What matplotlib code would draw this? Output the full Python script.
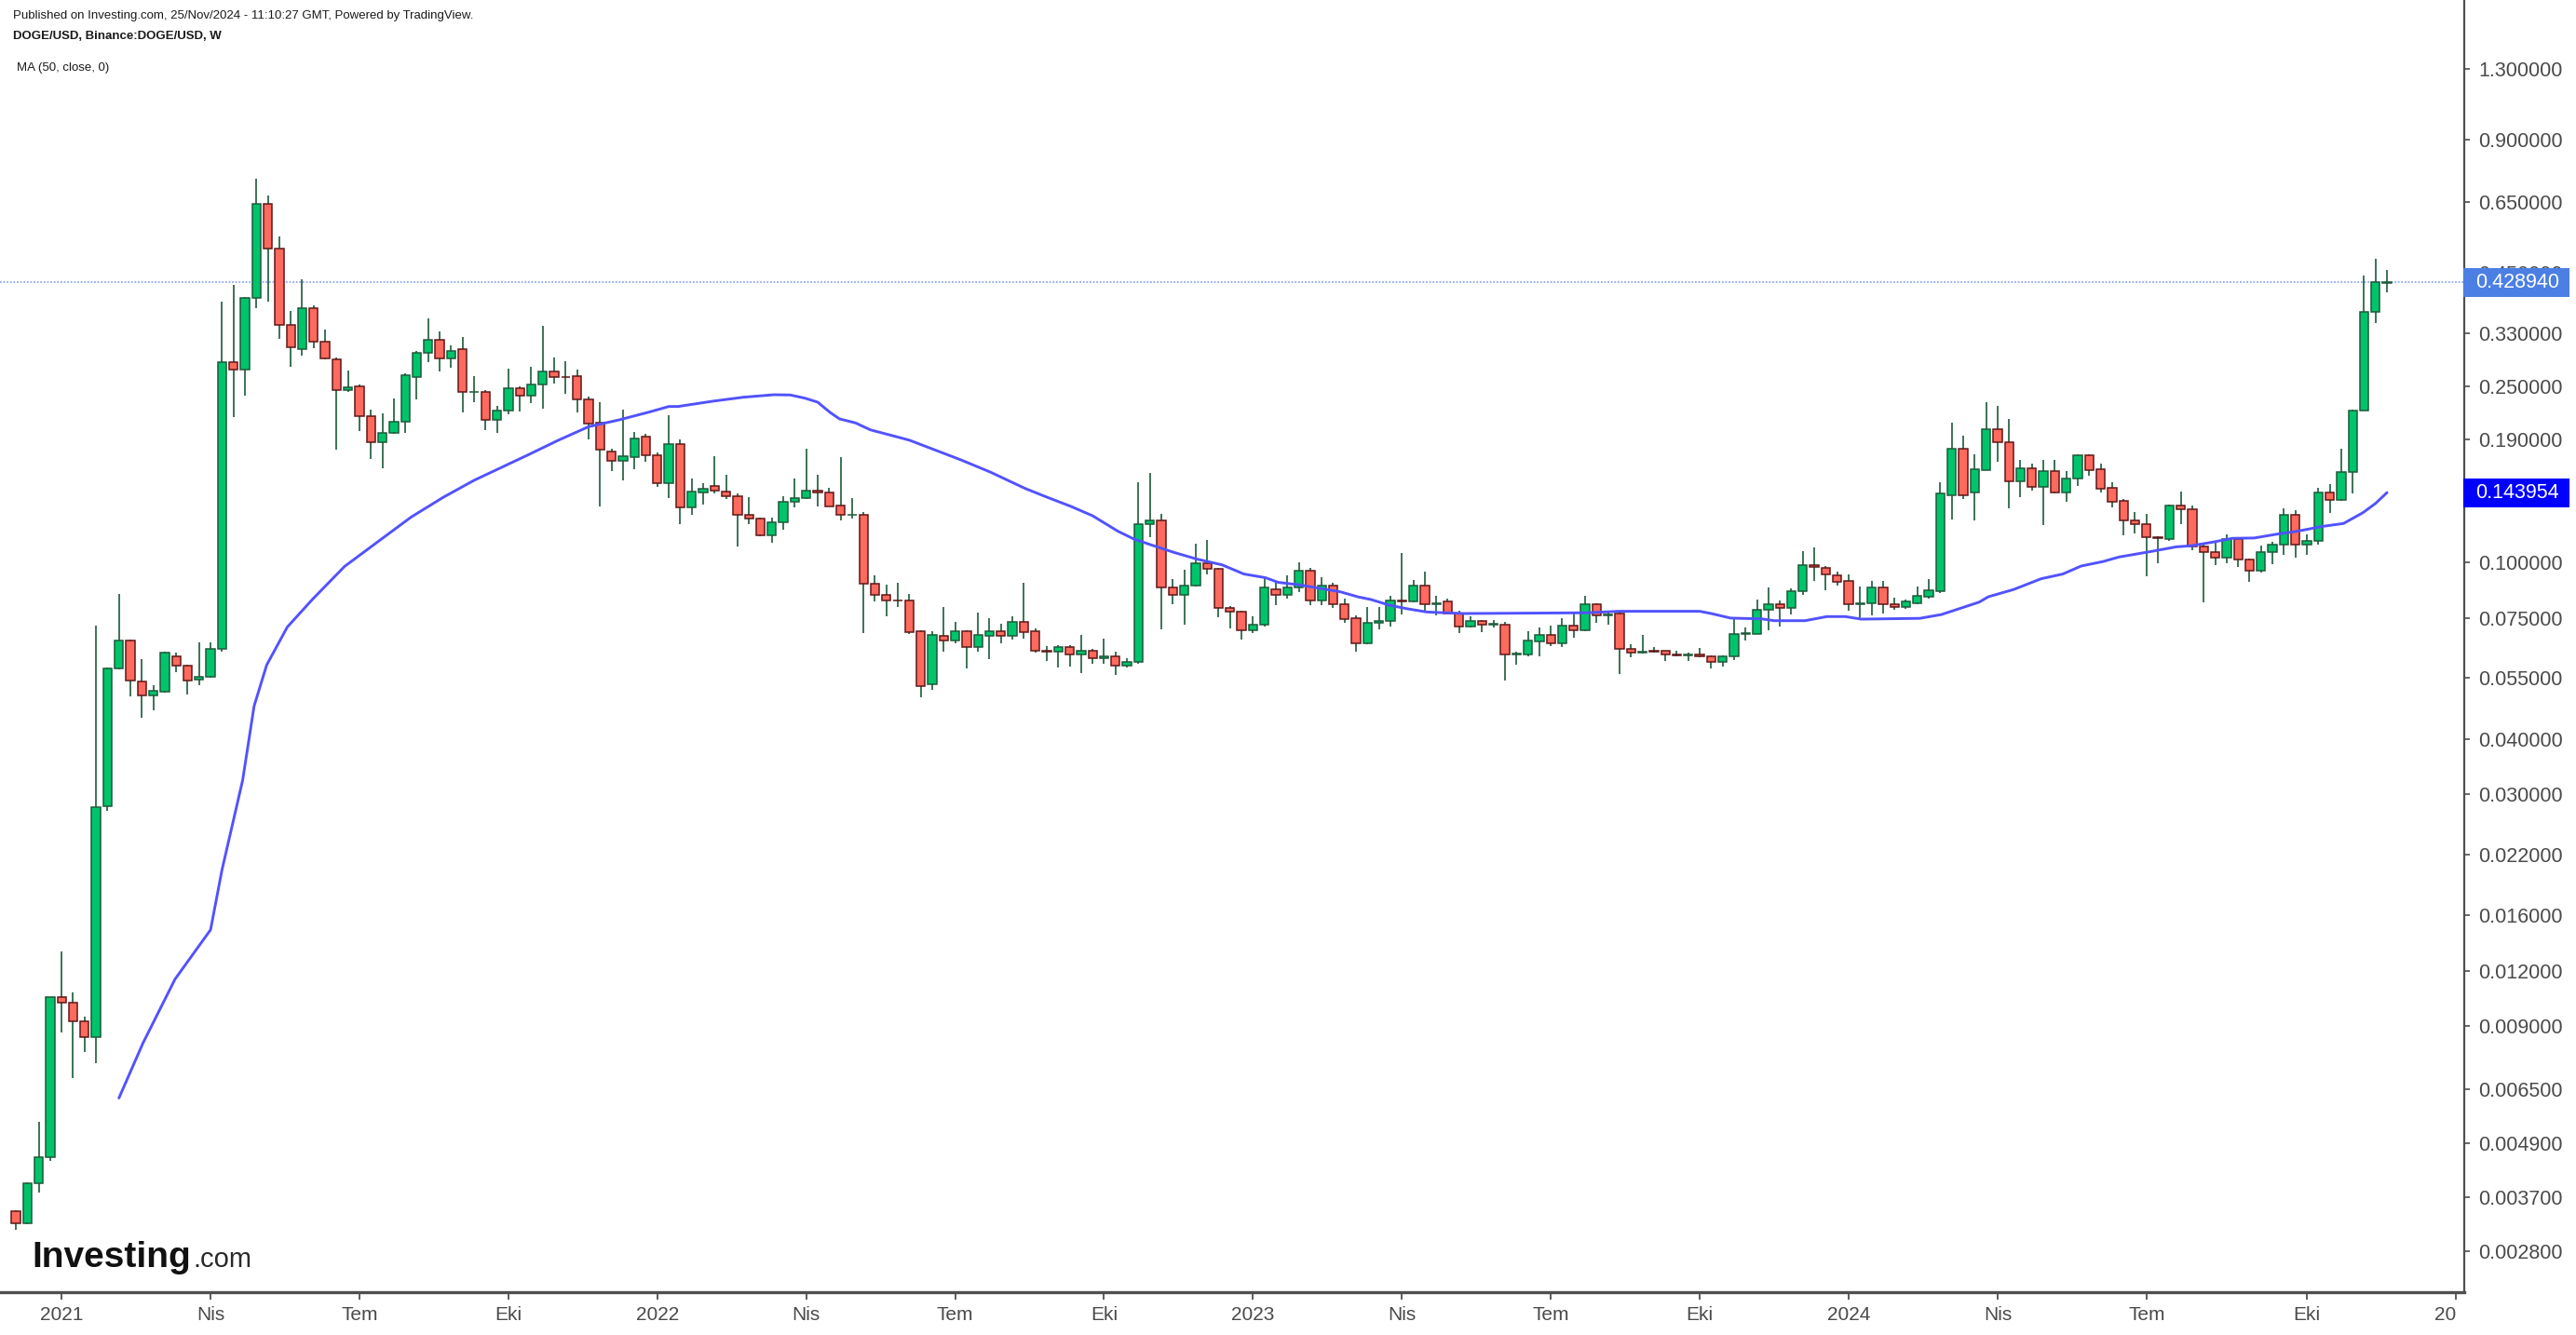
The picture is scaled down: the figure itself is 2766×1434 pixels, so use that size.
import datetime as dt
import numpy as np
import matplotlib
matplotlib.use("Agg")
import matplotlib.pyplot as plt
import matplotlib.dates as mdates
from matplotlib.patches import Rectangle
from matplotlib.transforms import Bbox, TransformedBbox, IdentityTransform, blended_transform_factory

plt.rcParams['font.family'] = ['Liberation Sans', 'DejaVu Sans']

# weekly DOGE/USD candles, first week starts 7 Dec 2020
first_week = dt.datetime(2020, 12, 7)

opens = [0.00345, 0.00323, 0.00398, 0.00456, 0.01048, 0.01019, 0.00922, 0.00853, 0.0282, 0.0578,
         0.0666, 0.0539, 0.0502, 0.0512, 0.0615, 0.0587, 0.0545, 0.0552, 0.0639, 0.2836,
         0.2727, 0.395, 0.6457, 0.5112, 0.3439, 0.3032, 0.3757, 0.3152, 0.287, 0.2447,
         0.25, 0.2141, 0.187, 0.1966, 0.2083, 0.2624, 0.2979, 0.3183, 0.2888, 0.3032,
         0.2427, 0.243, 0.2101, 0.2204, 0.2478, 0.2381, 0.2523, 0.2704, 0.2624, 0.264,
         0.2337, 0.2066, 0.1784, 0.1696, 0.1733, 0.1928, 0.1751, 0.1512, 0.1854, 0.1333,
         0.1443, 0.1488, 0.1445, 0.1414, 0.1283, 0.126, 0.1153, 0.1232, 0.1374, 0.1401,
         0.1456, 0.1443, 0.1346, 0.1282, 0.1283, 0.0898, 0.0848, 0.0823, 0.0823, 0.070,
         0.0533, 0.0685, 0.0667, 0.070, 0.0645, 0.0683, 0.070, 0.0683, 0.0734, 0.070,
         0.0633, 0.0629, 0.0646, 0.0621, 0.0634, 0.0609, 0.0616, 0.0586, 0.0597, 0.1223,
         0.1248, 0.0881, 0.0846, 0.0889, 0.0999, 0.097, 0.0791, 0.0776, 0.0703, 0.0725,
         0.0873, 0.0845, 0.0881, 0.0961, 0.0822, 0.0889, 0.0808, 0.0749, 0.0657, 0.0733,
         0.0738, 0.0823, 0.0819, 0.0889, 0.0806, 0.0817, 0.0768, 0.0718, 0.0739, 0.0725,
         0.0726, 0.062, 0.062, 0.0665, 0.0686, 0.0657, 0.072, 0.0703, 0.0807, 0.0761,
         0.0768, 0.064, 0.0626, 0.0633, 0.0632, 0.062, 0.0618, 0.0622, 0.0616, 0.0597,
         0.0615, 0.0692, 0.0692, 0.0782, 0.0806, 0.0791, 0.0864, 0.0989, 0.0975, 0.0935,
         0.0909, 0.0805, 0.0812, 0.0881, 0.0805, 0.0796, 0.0812, 0.0838, 0.0861, 0.1422,
         0.1805, 0.1438, 0.162, 0.2005, 0.1874, 0.1524, 0.1636, 0.1483, 0.1607, 0.1438,
         0.1545, 0.1751, 0.1623, 0.1473, 0.1376, 0.1247, 0.1224, 0.1142, 0.1133, 0.1348,
         0.1322, 0.109, 0.1058, 0.1027, 0.1133, 0.1017, 0.0959, 0.1057, 0.1101, 0.1285,
         0.110, 0.1122, 0.1441, 0.1384, 0.160, 0.2206, 0.3676, 0.4285]
highs = [0.00347, 0.00401, 0.00549, 0.0105, 0.01327, 0.01072, 0.00947, 0.0722, 0.058, 0.085,
         0.067, 0.0606, 0.053, 0.063, 0.0628, 0.059, 0.066, 0.066, 0.388, 0.423,
         0.397, 0.7347, 0.6733, 0.5436, 0.3693, 0.4358, 0.38, 0.3352, 0.29, 0.2709,
         0.252, 0.2212, 0.2169, 0.2344, 0.267, 0.30, 0.3558, 0.332, 0.3088, 0.3226,
         0.264, 0.245, 0.2259, 0.2736, 0.25, 0.2763, 0.3423, 0.29, 0.285, 0.2732,
         0.2375, 0.2299, 0.1812, 0.2214, 0.1972, 0.195, 0.177, 0.2151, 0.19, 0.1548,
         0.1513, 0.1741, 0.1578, 0.143, 0.1404, 0.1265, 0.1265, 0.1416, 0.1548, 0.1807,
         0.1578, 0.1475, 0.1732, 0.1397, 0.13, 0.0937, 0.0892, 0.0901, 0.0851, 0.0705,
         0.0701, 0.0793, 0.0737, 0.0705, 0.0772, 0.075, 0.0729, 0.0757, 0.090, 0.0712,
         0.0648, 0.0652, 0.0652, 0.0686, 0.064, 0.0674, 0.063, 0.061, 0.1519, 0.1594,
         0.1287, 0.0917, 0.0963, 0.1104, 0.1125, 0.0975, 0.080, 0.0778, 0.0756, 0.0925,
         0.0905, 0.0937, 0.1002, 0.0975, 0.0927, 0.0902, 0.0831, 0.0762, 0.0795, 0.0795,
         0.0842, 0.1052, 0.0915, 0.0955, 0.0842, 0.083, 0.0778, 0.0756, 0.0741, 0.0744,
         0.0735, 0.0631, 0.0701, 0.0715, 0.0722, 0.075, 0.0771, 0.0842, 0.081, 0.0778,
         0.077, 0.0654, 0.0686, 0.0645, 0.0634, 0.0634, 0.0628, 0.0641, 0.0618, 0.0618,
         0.0755, 0.0713, 0.0826, 0.0881, 0.0823, 0.0877, 0.106, 0.1083, 0.0983, 0.0957,
         0.0941, 0.0883, 0.0909, 0.0909, 0.0833, 0.0826, 0.0884, 0.0918, 0.1517, 0.2071,
         0.1938, 0.1759, 0.2303, 0.2259, 0.2111, 0.1703, 0.167, 0.1703, 0.1703, 0.1607,
         0.1755, 0.1755, 0.167, 0.1517, 0.139, 0.1299, 0.1291, 0.1145, 0.1355, 0.1445,
         0.1345, 0.110, 0.1111, 0.1159, 0.114, 0.102, 0.1092, 0.1113, 0.1327, 0.1312,
         0.1159, 0.1476, 0.1505, 0.1805, 0.2215, 0.4437, 0.4841, 0.4574]
lows = [0.00313, 0.00322, 0.00379, 0.00447, 0.0087, 0.00688, 0.00789, 0.00743, 0.0275, 0.0575,
        0.050, 0.0446, 0.0464, 0.051, 0.0567, 0.0504, 0.053, 0.055, 0.063, 0.2134,
        0.238, 0.3747, 0.3887, 0.3202, 0.277, 0.2935, 0.305, 0.288, 0.1797, 0.2427,
        0.1979, 0.1712, 0.1631, 0.195, 0.1963, 0.2336, 0.283, 0.2697, 0.2756, 0.2181,
        0.2305, 0.1994, 0.1963, 0.2166, 0.2198, 0.2288, 0.2221, 0.2539, 0.2401, 0.2181,
        0.19, 0.1341, 0.1612, 0.1536, 0.1628, 0.1689, 0.148, 0.1397, 0.1221, 0.1281,
        0.135, 0.1432, 0.1394, 0.1086, 0.1221, 0.115, 0.1108, 0.1187, 0.1332, 0.1394,
        0.1342, 0.134, 0.1245, 0.1256, 0.0695, 0.0819, 0.0758, 0.0796, 0.0689, 0.0496,
        0.0516, 0.0631, 0.0657, 0.0578, 0.0631, 0.0607, 0.0657, 0.067, 0.0675, 0.0626,
        0.0601, 0.0579, 0.0584, 0.0563, 0.0591, 0.0591, 0.0557, 0.0579, 0.0591, 0.114,
        0.0709, 0.0805, 0.0724, 0.0885, 0.094, 0.0752, 0.071, 0.067, 0.0695, 0.0718,
        0.0804, 0.0829, 0.086, 0.0804, 0.0804, 0.0789, 0.0732, 0.0631, 0.0654, 0.0709,
        0.0718, 0.0766, 0.0815, 0.078, 0.076, 0.0765, 0.0695, 0.0716, 0.0696, 0.0713,
        0.0541, 0.0589, 0.0614, 0.0614, 0.065, 0.0645, 0.0676, 0.070, 0.0732, 0.0725,
        0.0562, 0.0612, 0.0624, 0.0626, 0.0601, 0.0614, 0.0601, 0.0612, 0.0578, 0.0584,
        0.0602, 0.0667, 0.069, 0.0703, 0.0718, 0.0765, 0.0846, 0.091, 0.0868, 0.0886,
        0.078, 0.0746, 0.0759, 0.0767, 0.0783, 0.0788, 0.0805, 0.083, 0.0853, 0.1254,
        0.1395, 0.1244, 0.1615, 0.1693, 0.1329, 0.1409, 0.1453, 0.1218, 0.1435, 0.137,
        0.1493, 0.1568, 0.1438, 0.1334, 0.1153, 0.1162, 0.0931, 0.0995, 0.1119, 0.1222,
        0.1069, 0.0813, 0.0986, 0.0998, 0.0977, 0.0906, 0.095, 0.0994, 0.1043, 0.1027,
        0.1043, 0.1098, 0.1293, 0.138, 0.1436, 0.22, 0.3467, 0.4074]
closes = [0.00323, 0.00398, 0.00456, 0.01048, 0.01019, 0.00922, 0.00853, 0.0281, 0.0577, 0.0666,
          0.0541, 0.0502, 0.0513, 0.0627, 0.0585, 0.0541, 0.0552, 0.0639, 0.2836, 0.2727,
          0.395, 0.6457, 0.5112, 0.3439, 0.3062, 0.3757, 0.3152, 0.2888, 0.2447, 0.249,
          0.2141, 0.187, 0.1966, 0.2083, 0.2649, 0.2979, 0.3183, 0.2888, 0.3008, 0.2427,
          0.243, 0.2101, 0.2204, 0.2478, 0.2381, 0.2523, 0.2704, 0.2624, 0.262, 0.2335,
          0.2057, 0.1797, 0.1696, 0.1737, 0.1909, 0.1745, 0.1512, 0.1854, 0.1333, 0.1445,
          0.147, 0.1455, 0.1411, 0.1281, 0.1258, 0.1153, 0.1236, 0.1374, 0.1401, 0.1456,
          0.1443, 0.1342, 0.1282, 0.1285, 0.0897, 0.0846, 0.0822, 0.0821, 0.0698, 0.0527,
          0.0686, 0.0666, 0.070, 0.0645, 0.0686, 0.070, 0.0683, 0.0734, 0.0698, 0.0633,
          0.0631, 0.0646, 0.0621, 0.0634, 0.0609, 0.0614, 0.0586, 0.0598, 0.1224, 0.1248,
          0.0881, 0.0846, 0.0889, 0.0999, 0.0967, 0.0789, 0.0774, 0.0703, 0.0726, 0.0881,
          0.0845, 0.0881, 0.0961, 0.0822, 0.0889, 0.0805, 0.0746, 0.0657, 0.0733, 0.0738,
          0.0823, 0.0819, 0.0889, 0.0806, 0.081, 0.0768, 0.0718, 0.0739, 0.0725, 0.0727,
          0.062, 0.0623, 0.0667, 0.0686, 0.0657, 0.072, 0.0703, 0.0807, 0.0761, 0.0764,
          0.0638, 0.0626, 0.063, 0.0631, 0.062, 0.0618, 0.062, 0.0614, 0.0597, 0.0616,
          0.0692, 0.0695, 0.0784, 0.0806, 0.0791, 0.0864, 0.0989, 0.0978, 0.094, 0.0906,
          0.0805, 0.0812, 0.0881, 0.0805, 0.0796, 0.0817, 0.0841, 0.0866, 0.1432, 0.1805,
          0.1422, 0.1623, 0.2005, 0.1871, 0.1524, 0.1636, 0.1483, 0.1607, 0.1438, 0.1547,
          0.1751, 0.1618, 0.1469, 0.1373, 0.1246, 0.1223, 0.1142, 0.1138, 0.1348, 0.1318,
          0.109, 0.1057, 0.1027, 0.1133, 0.1017, 0.0961, 0.1057, 0.1101, 0.1285, 0.110,
          0.1122, 0.1441, 0.1384, 0.1605, 0.2208, 0.3686, 0.4289, 0.42894]

# MA(50, close): week number -> value
ma_week = [9, 11.1, 13.9, 17.0, 18.0, 19.8, 20.8, 21.9, 23.7, 25.9, 28.7, 31.6, 34.5, 37.3, 40,
           44.6, 47.3, 50.0, 52.7, 55.4, 57.0, 57.8, 60.8, 63.5, 66.2, 67.6, 68.9, 70.0, 71.1,
           71.9, 73.3, 74.6, 78, 82.5, 85.1, 88.1, 90.0, 92.1, 94.0, 96.2, 97.6, 99.2, 101.1,
           103.1, 105.3, 107.2, 109.1, 110.2, 112.1, 114.0, 115.6, 117.2, 118.3, 119.9, 121.5,
           123.2, 124.8, 126.4, 137.2, 139.9, 147.0, 148.0, 149.7, 152.4, 153.5, 156.2, 158.1,
           159.7, 161.1, 166.2, 168.1, 171.4, 172.2, 174.4, 176.8, 178.7, 180.3, 182.2, 183.6,
           186.3, 188.6, 189.9, 191.8, 193.5, 195.4, 197.3, 199.2, 201.3, 203.2, 204.9, 206.0,
           207.0]
ma_value = [0.0062, 0.00825, 0.0115, 0.01486, 0.0203, 0.0323, 0.0475, 0.0588, 0.0716, 0.0827,
            0.0981, 0.1115, 0.1267, 0.1404, 0.1534, 0.1745, 0.1886, 0.2027, 0.2101, 0.2191,
            0.2251, 0.2251, 0.2313, 0.2362, 0.2393, 0.239, 0.235, 0.2302, 0.2181, 0.2111,
            0.2067, 0.1994, 0.189, 0.1706, 0.16, 0.1471, 0.1406, 0.134, 0.1276, 0.1178,
            0.1131, 0.1095, 0.1055, 0.1019, 0.0989, 0.0943, 0.0925, 0.0903, 0.0891, 0.0874,
            0.086, 0.0837, 0.0826, 0.0802, 0.0787, 0.0774, 0.0771, 0.0768, 0.0771, 0.0777,
            0.0777, 0.0768, 0.075, 0.0747, 0.074, 0.074, 0.0756, 0.0756, 0.0746, 0.0749,
            0.0764, 0.0815, 0.0838, 0.087, 0.092, 0.0943, 0.0983, 0.1006, 0.103, 0.1059,
            0.1086, 0.1092, 0.1113, 0.1135, 0.1137, 0.1159, 0.1178, 0.1207, 0.1226, 0.1297,
            0.1361, 0.143954]

last_price = 0.428940
last_ma = 0.143954

price_ticks = [1.3, 0.9, 0.65, 0.45, 0.33, 0.25, 0.19, 0.10, 0.075, 0.055, 0.04, 0.03, 0.022,
               0.016, 0.012, 0.009, 0.0065, 0.0049, 0.0037, 0.0028]
month_names = {4: 'Nis', 7: 'Tem', 10: 'Eki'}

# colours
up_fill, up_edge = '#00c46b', '#1d5a3b'
dn_fill, dn_edge = '#ff6a5e', '#5e1717'
wick_col = '#1d5a3b'
ma_col = '#5252ff'
axis_col = '#4f4f4f'

W, H = 2766, 1434
fig = plt.figure(figsize=(W / 100, H / 100), dpi=100)
ax_right = 2646
ax_bottom = 1388
ax = fig.add_axes([0, (H - ax_bottom) / H, ax_right / W, ax_bottom / H])

n = len(closes)
x = np.array([mdates.date2num(first_week + dt.timedelta(weeks=i)) for i in range(n)])
o = np.array(opens)
h = np.array(highs)
l = np.array(lows)
c = np.array(closes)
up = c >= o

# wicks first, then bodies
ax.vlines(x, l, h, color=wick_col, linewidth=1.2, zorder=2)
body_lo = np.minimum(o, c)
body_h = np.abs(c - o)
ax.bar(x[up], body_h[up], bottom=body_lo[up], width=5.3, color=up_fill,
       edgecolor=up_edge, linewidth=1.1, zorder=3)
ax.bar(x[~up], body_h[~up], bottom=body_lo[~up], width=5.3, color=dn_fill,
       edgecolor=dn_edge, linewidth=1.1, zorder=3)

# moving average
ma_x = [mdates.date2num(first_week) + 7 * w for w in ma_week]
ax.plot(ma_x, ma_value, color=ma_col, linewidth=2.1, zorder=4, solid_capstyle='round')

# last price line
ax.axhline(last_price, color='#8eaaf0', linewidth=1.3, linestyle=(0, (1, 1)), zorder=1)

# scales (12.3 px per week, 476.2 px per decade)
x0 = mdates.date2num(first_week)
ax.set_xlim(x0 - 1.382 * 7, x0 + 213.74 * 7)
ax.set_yscale('log')
ax.set_ylim(0.002262, 1.8593)

for side in ['top', 'left']:
    ax.spines[side].set_visible(False)
ax.spines['right'].set_color(axis_col)
ax.spines['right'].set_linewidth(1.6)
ax.spines['bottom'].set_color(axis_col)
ax.spines['bottom'].set_linewidth(2.4)

ax.yaxis.tick_right()
ax.yaxis.set_minor_locator(matplotlib.ticker.NullLocator())
ax.set_yticks(price_ticks)
ax.set_yticklabels(['%.6f' % p for p in price_ticks])
ax.tick_params(axis='y', direction='out', length=4, width=1.2, color=axis_col,
               labelsize=15.5, labelcolor='#4a4a4a', pad=7)

# x ticks: first weekly bar of Jan / Apr / Jul / Oct
tick_x, tick_lab = [], []
for i in range(0, 216):
    d = first_week + dt.timedelta(weeks=i)
    if d.month in (1, 4, 7, 10) and d.day <= 7:
        tick_x.append(mdates.date2num(d))
        tick_lab.append(str(d.year) if d.month == 1 else month_names[d.month])
ax.set_xticks(tick_x)
ax.set_xticklabels([''] * len(tick_x))
ax.tick_params(axis='x', direction='out', length=6, width=1.3, color=axis_col)

# labels drawn by hand so the last one is cut before the price scale, like the original
clip = TransformedBbox(Bbox.from_extents(0, 0, ax_right - 9, H), IdentityTransform())
trans = blended_transform_factory(ax.transData, fig.transFigure)
for tx, lab in zip(tick_x, tick_lab):
    t = fig.text(tx, 1 - 1413 / H, lab, transform=trans, ha='center', va='center',
                 fontsize=15, color='#4a4a4a')
    t.set_clip_box(clip)
    t.set_clip_on(True)

# price badges on the right scale
fig.canvas.draw()
for val, col in [(last_price, '#4b7fe3'), (last_ma, '#0000ff')]:
    yp = ax.transData.transform((x0, val))[1]
    fig.patches.append(Rectangle((ax_right - 1, yp - 15.5), 114, 31, transform=IdentityTransform(),
                                 facecolor=col, edgecolor='none', zorder=5))
    fig.text((ax_right + 57) / W, yp / H, '%.6f' % val, ha='center', va='center',
             fontsize=15.5, color='white', zorder=6)

# header
fig.text(14 / W, 1 - 17 / H, 'Published on Investing.com, 25/Nov/2024 - 11:10:27 GMT, Powered by TradingView.',
         fontsize=9.5, color='#1a1a1a', va='center')
fig.text(14 / W, 1 - 39 / H, 'DOGE/USD, Binance:DOGE/USD, W', fontsize=9.5, fontweight='bold',
         color='#1a1a1a', va='center')
fig.text(18 / W, 1 - 73 / H, 'MA (50, close, 0)', fontsize=9.5, color='#1a1a1a', va='center')

# Investing.com logo
fig.text(34 / W, 1 - 1361 / H, 'Investing', fontsize=28, fontweight='bold', color='#111111',
         va='baseline')
fig.text(207 / W, 1 - 1361 / H, '.com', fontsize=21, color='#2a2a2a', va='baseline')

fig.savefig('out.png', dpi=100)
